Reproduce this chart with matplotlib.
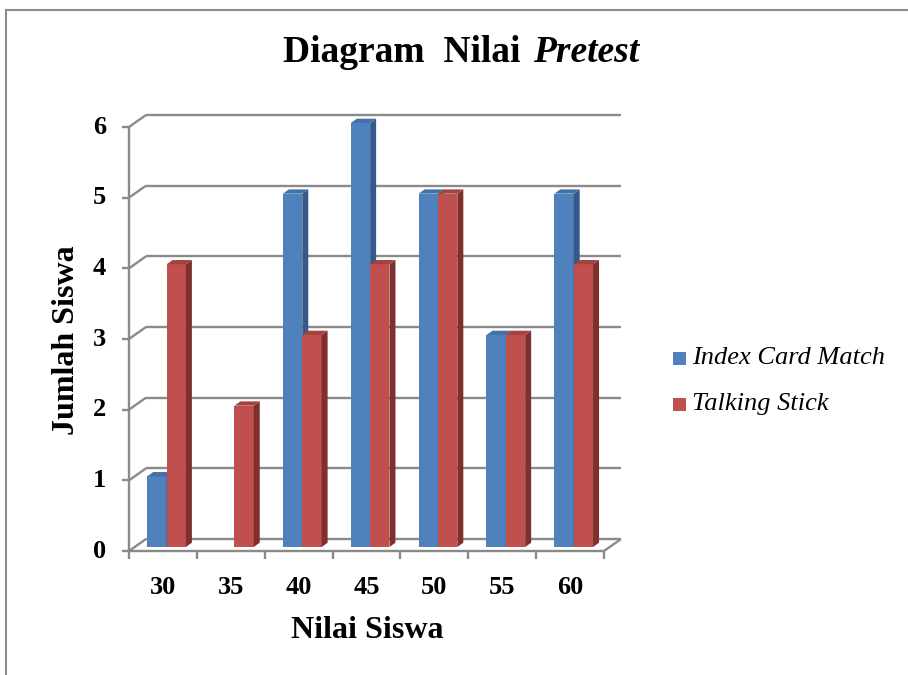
import matplotlib
matplotlib.use("Agg")
import matplotlib.pyplot as plt
from matplotlib.patches import Polygon, Rectangle
from matplotlib.lines import Line2D

plt.rcParams['font.family'] = ['Liberation Serif', 'DejaVu Serif']

# nilai pretest per kelompok nilai
nilai = ['30', '35', '40', '45', '50', '55', '60']
index_card = [1, 0, 5, 6, 5, 3, 5]
talking_stick = [4, 2, 3, 4, 5, 3, 4]
y_ticks = [0, 1, 2, 3, 4, 5, 6]
seri = ['Index Card Match', 'Talking Stick']

# warna muka depan, samping, atas
biru = ('#4F81BD', '#37598A', '#4372A8')
merah = ('#C0504D', '#7F302E', '#A4423F')
abu = '#8A8A8A'

W, H, DPI = 9.08, 6.75, 100
fig = plt.figure(figsize=(W, H), dpi=DPI)

# bidang depan plot (dalam piksel)
px_l, px_r, px_t, px_b = 129, 604, 127, 551
ax = fig.add_axes([px_l / 908, 1 - px_b / 675, (px_r - px_l) / 908, (px_b - px_t) / 675])
ax.set_xlim(0, len(nilai))
ax.set_ylim(0, max(y_ticks))
ax.axis('off')

# konversi piksel ke satuan data
ux = len(nilai) / (px_r - px_l)
uy = max(y_ticks) / (px_b - px_t)
dx, dy = 17 * ux, 12 * uy          # kedalaman dinding
bdx, bdy = 6 * ux, 4.3 * uy         # kedalaman batang
bx, by = 6 * ux, 4 * uy             # posisi batang di tengah kedalaman

kw = dict(color=abu, lw=1.7, clip_on=False, solid_capstyle='butt')
n = len(nilai)
# garis grid dinding belakang + diagonal dinding kiri
for v in y_ticks:
    ax.add_line(Line2D([dx, n + dx], [v + dy, v + dy], **kw))
    ax.add_line(Line2D([0, dx], [v, v + dy], **kw))
    ax.add_line(Line2D([-7 * ux, 0], [v, v], **kw))
ax.add_line(Line2D([0, 0], [0, max(y_ticks)], **kw))
# lantai
ax.add_line(Line2D([0, n], [0, 0], **kw))
ax.add_line(Line2D([n, n + dx], [0, dy], **kw))
for i in range(n + 1):
    ax.add_line(Line2D([i, i], [0, -8 * uy], **kw))


def batang(x0, w, h, warna):
    if h <= 0:
        return
    depan, samping, atas = warna
    x0 += bx
    y0 = by
    opsi = dict(edgecolor='none', zorder=3, clip_on=False)
    ax.add_patch(Rectangle((x0, y0), w, h, facecolor=depan, **opsi))
    ax.add_patch(Polygon([(x0 + w, y0), (x0 + w + bdx, y0 + bdy), (x0 + w + bdx, y0 + h + bdy),
                          (x0 + w, y0 + h)], closed=True, facecolor=samping, **opsi))
    ax.add_patch(Polygon([(x0, y0 + h), (x0 + bdx, y0 + h + bdy), (x0 + w + bdx, y0 + h + bdy),
                          (x0 + w, y0 + h)], closed=True, facecolor=atas, **opsi))


lebar = 0.285
for i in range(n):
    mulai = i + 0.18
    batang(mulai, lebar, index_card[i], biru)
    batang(mulai + lebar, lebar, talking_stick[i], merah)

# label sumbu
for v in y_ticks:
    ax.text(-23 * ux, v, str(v), ha='right', va='center', fontsize=19, fontweight='bold')
for i, t in enumerate(nilai):
    ax.text(i + 0.5, -43 * uy, t, ha='center', va='baseline', fontsize=19, fontweight='bold')

fig.text(66 / 908, 1 - 340 / 675, 'Jumlah Siswa', rotation=90, ha='center', va='center',
         fontsize=23, fontweight='bold')
fig.text(367 / 908, 1 - 630 / 675, 'Nilai Siswa', ha='center', va='center',
         fontsize=23, fontweight='bold')

# judul dengan kata "Pretest" miring
fig.text(520 / 908, 1 - 62 / 675, 'Diagram  Nilai', ha='right', va='baseline',
         fontsize=27, fontweight='bold')
fig.text(533 / 908, 1 - 62 / 675, 'Pretest', ha='left', va='baseline',
         fontsize=27, fontweight='bold', fontstyle='italic')

# legenda
for k, (nama, warna) in enumerate(zip(seri, [biru, merah])):
    yc = 358 + 46 * k
    fig.patches.append(Rectangle((673 / 908, 1 - (yc + 7) / 675), 13 / 908, 13 / 675,
                                 facecolor=warna[0], edgecolor='none', transform=fig.transFigure))
    fig.text(692 / 908, 1 - yc / 675, nama, ha='left', va='center', fontsize=19,
             fontstyle='italic', family='Liberation Serif')

# bingkai grafik
fig.add_artist(Line2D([6 / 908, 1], [1 - 10 / 675, 1 - 10 / 675], color='#8C8C8C', lw=1.5,
                      transform=fig.transFigure))
fig.add_artist(Line2D([6 / 908, 6 / 908], [0, 1 - 10 / 675], color='#8C8C8C', lw=1.5,
                      transform=fig.transFigure))

fig.savefig('out.png', dpi=DPI)
